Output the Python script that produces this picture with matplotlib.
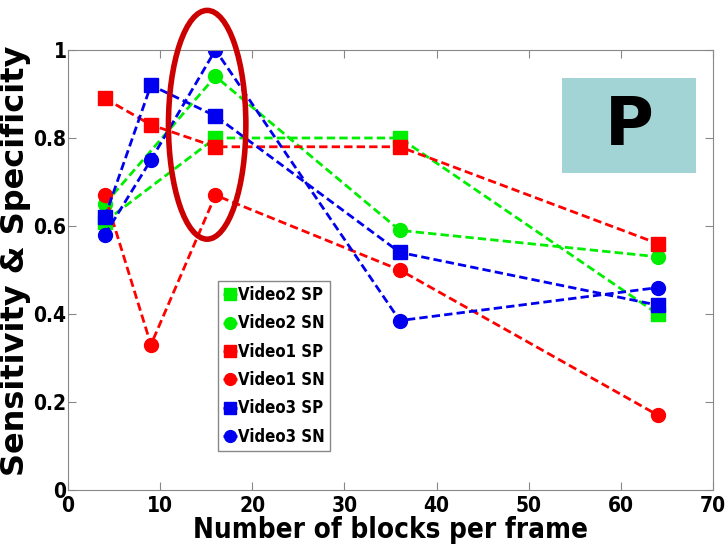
import matplotlib.pyplot as plt
from matplotlib.patches import Ellipse, Rectangle

# data
x_v2 = [4, 16, 36, 64]
x_v13 = [4, 9, 16, 36, 64]

video2_sp = [0.61, 0.80, 0.80, 0.40]
video2_sn = [0.65, 0.94, 0.59, 0.53]
video1_sp = [0.89, 0.83, 0.78, 0.78, 0.56]
video1_sn = [0.67, 0.33, 0.67, 0.50, 0.17]
video3_sp = [0.62, 0.92, 0.85, 0.54, 0.42]
video3_sn = [0.58, 0.75, 1.00, 0.385, 0.46]

xticks = [0, 10, 20, 30, 40, 50, 60, 70]
yticks = [0, 0.2, 0.4, 0.6, 0.8, 1.0]
ytick_labels = ["0", "0.2", "0.4", "0.6", "0.8", "1"]

narrow = ["DejaVu Sans"]


def main():
    fig = plt.figure(figsize=(7.27, 5.53), dpi=100)
    ax = fig.add_axes([0.0935, 0.114, 0.8875, 0.7956])

    series = [
        (x_v2, video2_sp, "#00ee00", "s", "Video2 SP"),
        (x_v2, video2_sn, "#00ee00", "o", "Video2 SN"),
        (x_v13, video1_sp, "#ff0000", "s", "Video1 SP"),
        (x_v13, video1_sn, "#ff0000", "o", "Video1 SN"),
        (x_v13, video3_sp, "#0000ee", "s", "Video3 SP"),
        (x_v13, video3_sn, "#0000ee", "o", "Video3 SN"),
    ]
    for xs, ys, c, m, lab in series:
        ax.plot(xs, ys, linestyle=(0, (3, 1.5)), color=c, linewidth=2,
                marker=m, markersize=10, label=lab)

    ax.set_xlim(0, 70)
    ax.set_ylim(0, 1)
    ax.set_xticks(xticks)
    ax.set_yticks(yticks)
    ax.set_yticklabels(ytick_labels)
    ax.tick_params(direction="in", top=True, right=True, length=6,
                   color="#888888", labelsize=15, pad=1)
    ax.tick_params(axis="x", pad=4)
    for lbl in ax.get_xticklabels() + ax.get_yticklabels():
        lbl.set_family(narrow)
        lbl.set_fontweight("bold")
        lbl.set_fontstretch("condensed")
    for sp in ax.spines.values():
        sp.set_color("#888888")

    ax.set_xlabel("Number of blocks per frame", family=narrow,
                  fontweight="bold", fontstretch="condensed",
                  fontsize=20, labelpad=0)
    ax.set_ylabel("Sensitivity & Specificity", family="DejaVu Sans",
                  fontweight="bold", fontsize=23)
    ax.yaxis.set_label_coords(-0.058, 0.52)

    leg = ax.legend(loc="lower left", bbox_to_anchor=(0.22, 0.07),
                    prop={"family": narrow, "weight": "bold", "size": 12,
                          "stretch": "condensed"},
                    handlelength=0.8, handletextpad=0.1, borderpad=0.3,
                    labelspacing=0.62, markerscale=0.85, fancybox=False,
                    framealpha=1)
    leg.get_frame().set_edgecolor("#888888")

    # teal "P" box, in figure pixels
    fig.patches.append(Rectangle((562 / 727, 1 - 173 / 553), 134 / 727, 95 / 553,
                                 transform=fig.transFigure,
                                 facecolor="#a2d4d6", edgecolor="none", zorder=5))
    fig.text(629 / 727, 1 - 126 / 553, "P", ha="center", va="center",
             fontsize=48, fontweight="bold", family="DejaVu Sans", zorder=6)

    # red highlight ellipse around x=16
    ell = Ellipse((15.1, 0.83), 8.4, 0.52, fill=False, edgecolor="#cc0000",
                  linewidth=4, clip_on=False, zorder=10)
    ax.add_patch(ell)

    fig.savefig("out.png", dpi=100)


if __name__ == '__main__':
    main()
